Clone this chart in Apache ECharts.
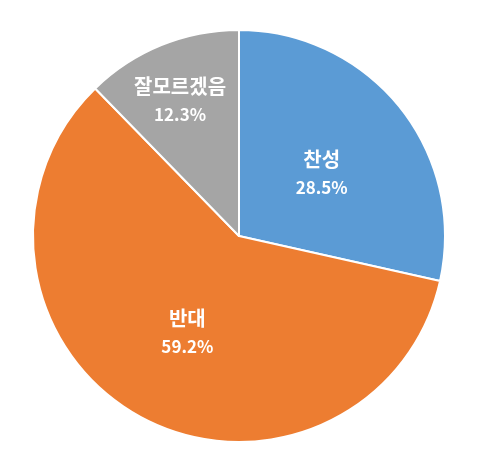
<!DOCTYPE html>
<html>
<head>
<meta charset="utf-8">
<script src="https://cdn.jsdelivr.net/npm/echarts@6/dist/echarts.min.js"></script>
<style>
  html, body { margin: 0; padding: 0; background: #fff; }
  #chart { width: 478px; height: 471px; }
</style>
</head>
<body>
<div id="chart"></div>
<script>
const categories = ['찬성', '반대', '잘모르겠음'];
const values = [28.5, 59.2, 12.3];
const colors = ['#5B9BD5', '#ED7D31', '#A5A5A5'];

const chart = echarts.init(document.getElementById('chart'), null, { renderer: 'canvas' });

const option = {
    animation: false,
    series: [{
        type: 'pie',
        center: [239, 236],
        radius: 206,
        startAngle: 90,
        clockwise: true,
        itemStyle: { borderColor: '#fff', borderWidth: 2 },
        label: {
            show: true,
            position: 'inside',
            formatter: p => '{n|' + p.name + '}\n{v|' + p.value.toFixed(1) + '%}',
            rich: {
                n: { color: '#fff', fontSize: 20, fontWeight: 'bold', fontFamily: 'Noto Sans CJK KR', lineHeight: 30 },
                v: { color: '#fff', fontSize: 17, fontWeight: 'bold', fontFamily: 'Noto Sans CJK KR', lineHeight: 26 }
            }
        },
        labelLine: { show: false },
        labelLayout: p => p.dataIndex === 2 ? { dx: -19, dy: -38 } : { dy: 3 },
        data: categories.map((c, i) => ({ name: c, value: values[i], itemStyle: { color: colors[i] } }))
    }]
};
chart.setOption(option);
</script>
</body>
</html>
